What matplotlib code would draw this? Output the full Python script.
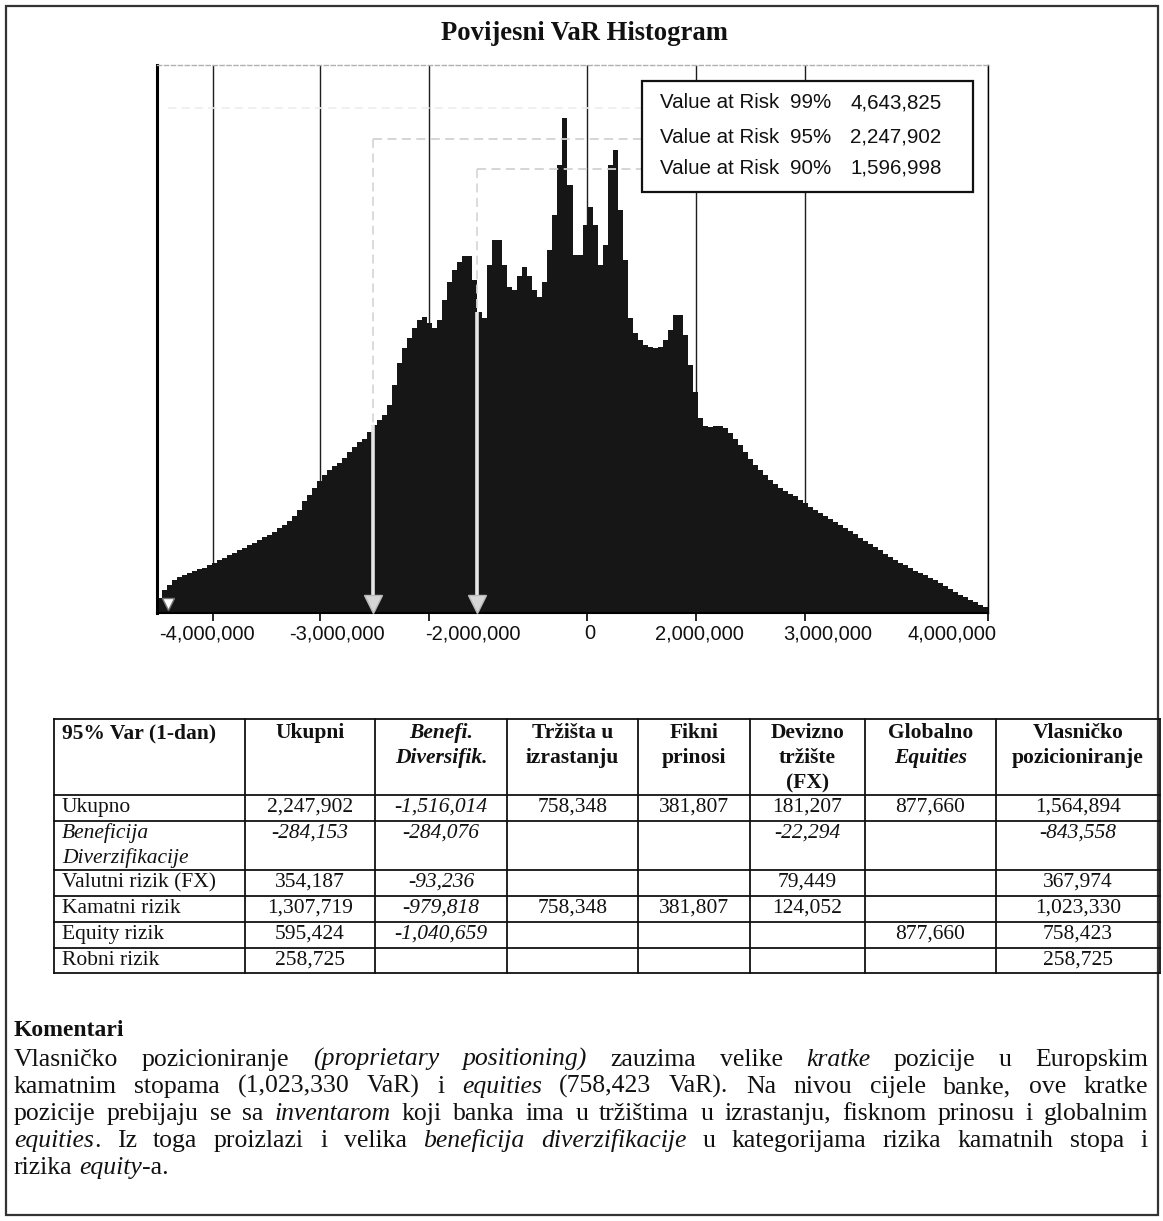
import matplotlib
matplotlib.use("Agg")
import matplotlib.pyplot as plt
import numpy as np
from matplotlib.patches import Rectangle

W, H, DPI = 1163, 1221, 100
SANS = "Liberation Sans"
SERIF = "Liberation Serif"
plt.rcParams['font.family'] = [SANS, 'DejaVu Sans']

# ---------------- data ----------------
chart_title = "Povijesni VaR Histogram"

# histogram frequencies (one value per bin)
counts = [15, 23, 28, 33, 36, 38, 40, 42, 44, 45,
          48, 50, 53, 55, 58, 60, 63, 65, 68, 70,
          73, 76, 78, 81, 85, 88, 92, 97, 103, 112,
          118, 125, 132, 138, 143, 147, 150, 155, 161, 166,
          171, 174, 181, 188, 193, 198, 208, 228, 250, 265,
          275, 285, 293, 296, 290, 285, 293, 313, 331, 343,
          351, 357, 357, 333, 301, 295, 348, 373, 373, 348,
          326, 323, 337, 346, 337, 323, 316, 331, 363, 398,
          448, 495, 428, 358, 358, 388, 406, 388, 348, 368,
          448, 463, 403, 353, 295, 280, 273, 268, 266, 265,
          266, 273, 283, 298, 298, 278, 248, 221, 195, 187,
          186, 187, 187, 185, 180, 174, 168, 161, 154, 148,
          143, 138, 133, 129, 125, 122, 119, 117, 113, 110,
          106, 103, 100, 97, 94, 91, 88, 85, 82, 79,
          75, 72, 69, 66, 63, 59, 56, 53, 50, 48,
          45, 42, 40, 38, 35, 33, 30, 27, 24, 21,
          18, 16, 13, 11, 8, 6]

grid_pos = [11.1, 32.6, 54.3, 85.8, 107.7, 129.4, 166.0]
label_pos = [10.0, 36.0, 63.1, 86.5, 108.3, 134.0, 158.8]
tick_labels = ["-4,000,000", "-3,000,000", "-2,000,000", "0",
               "2,000,000", "3,000,000", "4,000,000"]

var_conf = ["99%", "95%", "90%"]
var_value = [4643825, 2247902, 1596998]
var_bin = [2.2, 43.1, 64.0]
var_level = [505, 474, 444]

# table
header_lines = [["95% Var (1-dan)"], ["Ukupni"], ["Benefi.", "Diversifik."],
                ["Tržišta u", "izrastanju"], ["Fikni", "prinosi"],
                ["Devizno", "tržište", "(FX)"], ["Globalno", "Equities"],
                ["Vlasničko", "pozicioniranje"]]
header_italic = [[False], [False], [True, True], [False, False], [False, False],
                 [False, False, False], [False, True], [False, False]]
row_labels = [["Ukupno"], ["Beneficija", "Diverzifikacije"], ["Valutni rizik (FX)"],
              ["Kamatni rizik"], ["Equity rizik"], ["Robni rizik"]]
italic_row = [False, True, False, False, False, False]
col_ukupni = [2247902, -284153, 354187, 1307719, 595424, 258725]
col_benefi = [-1516014, -284076, -93236, -979818, -1040659, None]
col_trzista = [758348, None, None, 758348, None, None]
col_fikni = [381807, None, None, 381807, None, None]
col_devizno = [181207, -22294, 79449, 124052, None, None]
col_globalno = [877660, None, None, None, 877660, None]
col_vlasnicko = [1564894, -843558, 367974, 1023330, 758423, 258725]
italic_col = [False, True, False, False, False, False, False]

comment_title = "Komentari"
comment_lines = [
    "Vlasničko pozicioniranje _(proprietary positioning)_ zauzima velike _kratke_ pozicije u Europskim",
    "kamatnim stopama (1,023,330 VaR) i _equities_ (758,423 VaR). Na nivou cijele banke, ove kratke",
    "pozicije prebijaju se sa _inventarom_ koji banka ima u tržištima u izrastanju, fisknom prinosu i globalnim",
    "_equities_. Iz toga proizlazi i velika _beneficija diverzifikacije_ u kategorijama rizika kamatnih stopa i",
    "rizika _equity_-a.",
]

# ---------------- figure ----------------
fig = plt.figure(figsize=(W / DPI, H / DPI), dpi=DPI)
fig.patch.set_facecolor('white')

# histogram axes (pixel box: x 157..988, y 65..613)
ax = fig.add_axes([157 / W, 1 - 613 / H, 831 / W, 548 / H])
n = len(counts)
ax.stairs(counts, np.arange(n + 1), fill=True, color='#161616', zorder=2)
ax.set_xlim(0, n)
ax.set_ylim(0, 548)
for g in grid_pos:
    ax.axvline(g, color='#1e1e1e', lw=1.0, zorder=1)

ax.spines['left'].set_linewidth(2.2)
ax.spines['bottom'].set_linewidth(1.5)
ax.spines['right'].set_linewidth(1.0)
ax.spines['top'].set_color('#b0b0b0')
ax.spines['top'].set_linestyle((0, (3, 2)))
ax.spines['top'].set_linewidth(1.0)
ax.set_yticks([])
ax.set_xticks(label_pos, tick_labels)
ax.tick_params(axis='x', which='major', length=0, pad=8, labelsize=14.5, colors='#111')
ax.set_xticks(grid_pos, minor=True)
ax.tick_params(axis='x', which='minor', length=6, width=1.2, direction='out')

# legend box and VaR markers
bx0, by0, bw, bh = 0.5836, 0.768, 0.3984, 0.203
box_left_data = bx0 * n
for i, (b, lvl) in enumerate(zip(var_bin, var_level)):
    hb = counts[int(b)]
    if i == 0:
        ax.plot([b, box_left_data], [lvl, lvl], color='#ededed', lw=1.2, ls=(0, (5, 3)), zorder=3)
        ax.plot([b], [9], marker='v', ms=9, color='white', mec='#777', mew=1, zorder=4, clip_on=False)
        continue
    ax.plot([b, box_left_data], [lvl, lvl], color='#d2d2d2', lw=1.3, ls=(0, (5, 3)), zorder=3)
    ax.plot([b, b], [lvl, hb], color='#d8d8d8', lw=1.3, ls=(0, (5, 3)), zorder=3)
    ax.plot([b, b], [hb, 12], color='#e6e6e6', lw=2.6, zorder=3, solid_capstyle='butt')
    ax.plot([b], [9], marker='v', ms=13, color='#d6d6d6', mec='#b8b8b8', mew=1, zorder=4,
            clip_on=False)

ax.add_patch(Rectangle((bx0, by0), bw, bh, transform=ax.transAxes, facecolor='white',
                       edgecolor='#111', lw=1.6, zorder=6))
legend_y = [0.9307, 0.8686, 0.812]
for yy, c, v in zip(legend_y, var_conf, var_value):
    kw = dict(transform=ax.transAxes, fontsize=14.8, va='center', ha='left', zorder=7, color='#111')
    ax.text(0.6053, yy, "Value at Risk", **kw)
    ax.text(0.7617, yy, c, **kw)
    ax.text(0.834, yy, f"{v:,}", **kw)

# overlay axes in pixel coordinates for page text / table
ov = fig.add_axes([0, 0, 1, 1], zorder=10)
ov.set_xlim(0, W)
ov.set_ylim(H, 0)
ov.axis('off')

ov.add_patch(Rectangle((6, 6), 1152, 1209, fill=False, lw=1.6, ec='#333'))
ov.text(584, 33, chart_title, ha='center', va='center', family=SERIF,
        weight='bold', fontsize=19.2, color='#111')

# table
col_x = [54, 245, 375, 507, 638, 750, 865, 996, 1160]
row_y = [719, 795, 821, 870, 896, 922, 948, 973]
for yy in row_y:
    ov.plot([col_x[0], col_x[-1]], [yy, yy], color='#111', lw=1.3)
for xx in col_x:
    ov.plot([xx, xx], [row_y[0], row_y[-1]], color='#111', lw=1.3)

TFS = 15.5
for ci, (lines, its) in enumerate(zip(header_lines, header_italic)):
    for k, (s, it) in enumerate(zip(lines, its)):
        if ci == 0:
            x, ha = 62, 'left'
        else:
            x, ha = (col_x[ci] + col_x[ci + 1]) / 2, 'center'
        ov.text(x, 733 + 25 * k, s, ha=ha, va='center', family=SERIF, weight='bold',
                style='italic' if it else 'normal', fontsize=TFS, color='#111')

columns = [col_ukupni, col_benefi, col_trzista, col_fikni, col_devizno, col_globalno, col_vlasnicko]
for ri, lab in enumerate(row_labels):
    y0 = row_y[ri + 1] + 12.5
    for k, s in enumerate(lab):
        ov.text(62, y0 + 25 * k, s, ha='left', va='center', family=SERIF, fontsize=TFS,
                style='italic' if italic_row[ri] else 'normal', color='#111')
    for ci, col in enumerate(columns):
        v = col[ri]
        if v is None:
            continue
        xc = (col_x[ci + 1] + col_x[ci + 2]) / 2
        it = italic_row[ri] or italic_col[ci]
        ov.text(xc, y0, f"{v:,}", ha='center', va='center', family=SERIF, fontsize=TFS,
                style='italic' if it else 'normal', color='#111')

# comments, justified
BFS = 18.5
ov.text(14, 1036, comment_title, ha='left', va='baseline', family=SERIF, weight='bold',
        fontsize=17, color='#111')


def parse(line):
    words, cur, buf, italic = [], [], '', False
    for ch in line:
        if ch == '_':
            if buf:
                cur.append((buf, italic))
                buf = ''
            italic = not italic
        elif ch == ' ':
            if buf:
                cur.append((buf, italic))
                buf = ''
            if cur:
                words.append(cur)
                cur = []
        else:
            buf += ch
    if buf:
        cur.append((buf, italic))
    if cur:
        words.append(cur)
    return words


fig.canvas.draw()
rend = fig.canvas.get_renderer()


def seg_width(s, it):
    t = ov.text(0, 500, s, fontsize=BFS, family=SERIF, style='italic' if it else 'normal')
    w = t.get_window_extent(rend).width
    t.remove()
    return w


space_w = seg_width("a a", False) - seg_width("aa", False)
x_left, x_right = 14, 1148
for li, line in enumerate(comment_lines):
    words = parse(line)
    widths = [[seg_width(s, it) for s, it in w] for w in words]
    total = sum(sum(ws) for ws in widths)
    last = li == len(comment_lines) - 1
    gap = space_w if last else (x_right - x_left - total) / (len(words) - 1)
    x = x_left
    yb = 1066 + 27 * li
    for w, ws in zip(words, widths):
        for (s, it), sw in zip(w, ws):
            ov.text(x, yb, s, ha='left', va='baseline', family=SERIF, fontsize=BFS,
                    style='italic' if it else 'normal', color='#111')
            x += sw
        x += gap

fig.savefig("out.png", dpi=DPI, facecolor='white')
